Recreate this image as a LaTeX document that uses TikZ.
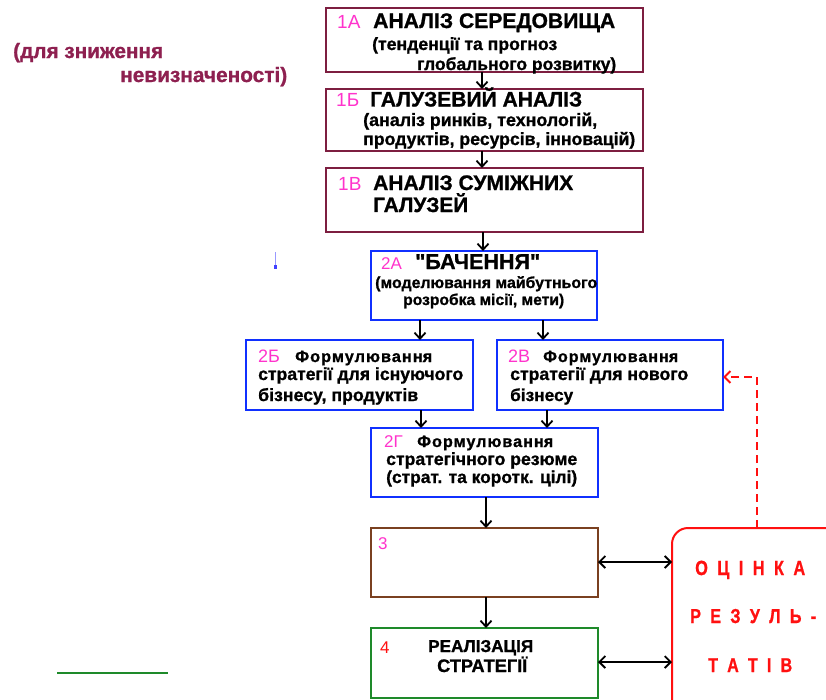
\documentclass[tikz,border=0pt]{standalone}
\usepackage{fontspec}
\setmainfont{Liberation Sans}[Ligatures=TeXOff]
\usepackage{graphicx}
\usetikzlibrary{arrows.meta}
\definecolor{maroonB}{HTML}{7D1E40}
\definecolor{maroonT}{HTML}{8E2050}
\definecolor{blueB}{HTML}{1030FF}
\definecolor{brownB}{HTML}{7A4020}
\definecolor{greenB}{HTML}{1E8A2A}
\definecolor{redB}{HTML}{FF1010}
\definecolor{magL}{HTML}{FF33CC}
\newcommand{\fw}[2]{\resizebox{#1pt}{!}{#2}}
\newcommand{\nl}[1]{\scalebox{0.8}[1]{#1}}
\begin{document}
\begin{tikzpicture}[x=1pt,y=-1pt,
  framebox/.style={rectangle, line width=2.4pt, inner sep=0pt, outer sep=0pt},
  ttl/.style={anchor=base west, inner sep=0pt, font=\bfseries\fontsize{20}{24}\selectfont\addfontfeature{FakeBold=1}},
  sub/.style={anchor=base west, inner sep=0pt, font=\bfseries\fontsize{17}{20}\selectfont\addfontfeature{FakeBold=1}},
  frm/.style={anchor=base west, inner sep=0pt, font=\bfseries\fontsize{15.5}{18}\selectfont\addfontfeature{FakeBold=1,LetterSpace=6}},
  lab/.style={anchor=base west, inner sep=0pt, text=magL, font=\fontsize{19}{23}\selectfont},
  labm/.style={anchor=base west, inner sep=0pt, text=magL, font=\fontsize{18}{22}\selectfont},
  labs/.style={anchor=base west, inner sep=0pt, text=magL, font=\fontsize{17}{20}\selectfont},
  evl/.style={anchor=base west, inner sep=0pt, text=redB, font=\bfseries\fontsize{19.5}{22}\selectfont\addfontfeature{FakeBold=1}},
  arr/.style={line width=1.8pt, -{Straight Barb[length=6pt,width=11pt]}},
  darr/.style={line width=1.8pt, {Straight Barb[length=6pt,width=12pt]}-{Straight Barb[length=6pt,width=12pt]}}]
\clip (0,0) rectangle (826,699);
\fill[white] (0,0) rectangle (826,699);

% boxes
\node[framebox, draw=maroonB, minimum width=317pt, minimum height=64pt] (n1a) at (484.5,40) {};
\node[framebox, draw=maroonB, minimum width=317pt, minimum height=62pt] (n1b) at (484.5,120) {};
\node[framebox, draw=maroonB, minimum width=317pt, minimum height=64pt] (n1v) at (484.5,200) {};
\node[framebox, draw=blueB, minimum width=226pt, minimum height=69pt] (n2a) at (484,285.5) {};
\node[framebox, draw=blueB, minimum width=227pt, minimum height=70pt] (n2b) at (359.5,375) {};
\node[framebox, draw=blueB, minimum width=226pt, minimum height=70pt] (n2v) at (610,375) {};
\node[framebox, draw=blueB, minimum width=227pt, minimum height=69pt] (n2g) at (484.5,462.5) {};
\node[framebox, draw=brownB, minimum width=227pt, minimum height=69pt] (n3) at (484.5,562.5) {};
\node[framebox, draw=greenB, minimum width=227pt, minimum height=70pt] (n4) at (484.5,663) {};
\node[rectangle, draw=redB, line width=2pt, rounded corners=16pt, inner sep=0pt, outer sep=0pt, minimum width=208pt, minimum height=232pt] (nr) at (776,644) {};

% helper coordinates
\coordinate (c420) at (420,0);
\coordinate (c422) at (421,0);
\coordinate (c482) at (482,0);
\coordinate (c483) at (483,0);
\coordinate (c486) at (486,0);
\coordinate (c543) at (543,0);
\coordinate (c547) at (547,0);
\coordinate (c757) at (757,0);
\coordinate (cy377) at (0,377);
\coordinate (cy562) at (0,562);
\coordinate (cy662) at (0,662);

% connectors
\draw[arr] (n1a.south -| c482) -- (n1b.north -| c482);
\draw[arr] (n1b.south -| c482) -- (n1v.north -| c482);
\draw[arr] (n1v.south -| c483) -- (n2a.north -| c483);
\draw[arr] (n2a.south -| c420) -- (n2b.north -| c420);
\draw[arr] (n2a.south -| c543) -- (n2v.north -| c543);
\draw[arr] (n2b.south -| c422) -- (n2g.north -| c422);
\draw[arr] (n2v.south -| c547) -- (n2g.north -| c547);
\draw[arr] (n2g.south -| c486) -- (n3.north -| c486);
\draw[arr] (n3.south -| c486) -- (n4.north -| c486);
\draw[darr] (n3.east |- cy562) -- (nr.west |- cy562);
\draw[darr] (n4.east |- cy662) -- (nr.west |- cy662);
\draw[redB, line width=2pt, dash pattern=on 8pt off 5pt, -{Straight Barb[length=6pt,width=12pt]}]
  (nr.north -| c757) -- (c757 |- cy377) -- (n2v.east |- cy377);

% texts 1A
\node[lab] (l1a) at (337,28) {1А};
\node[ttl] (t1a) at (373,28) {\fw{242}{АНАЛІЗ СЕРЕДОВИЩА}};
\node[sub] (s1a1) at (372,50) {\fw{185}{(тенденції та прогноз}};
\node[sub] (s1a2) at (417,70) {\fw{199}{глобального розвитку)}};
% 1B
\node[lab] (l1b) at (336,106.5) {1Б};
\node[ttl] (t1b) at (370,106.5) {\fw{212}{ГАЛУЗЕВИЙ АНАЛІЗ}};
\node[sub] (s1b1) at (363,126) {\fw{234}{(аналіз ринків, технологій,}};
\node[sub] (s1b2) at (363,145) {\fw{272}{продуктів, ресурсів, інновацій)}};
% 1V
\node[lab] (l1v) at (338,190) {1В};
\node[ttl] (t1v1) at (373,190) {\fw{200}{АНАЛІЗ СУМІЖНИХ}};
\node[ttl] (t1v2) at (373,212) {\fw{95}{ГАЛУЗЕЙ}};
% 2A
\node[labs] (l2a) at (381,269) {2А};
\node[ttl] (t2a) at (415,269) {\fw{125}{"БАЧЕННЯ"}};
\node[sub] (s2a1) at (375,288) {\fw{222}{(моделювання майбутнього}};
\node[sub] (s2a2) at (403,305) {\fw{161}{розробка місії, мети)}};
% 2B
\node[labm] (l2b) at (258,362) {2Б};
\node[frm] (f2b) at (295,362) {\fw{137}{Формулюванн\addfontfeature{LetterSpace=0}я}};
\node[sub] (s2b1) at (258,380) {\fw{205}{стратегії для існуючого}};
\node[sub] (s2b2) at (258,401) {\fw{160}{бізнесу, продуктів}};
% 2V
\node[labm] (l2v) at (508,362) {2В};
\node[frm] (f2v) at (543,362) {\fw{135}{Формулюванн\addfontfeature{LetterSpace=0}я}};
\node[sub] (s2v1) at (510,380) {\fw{178}{стратегії для нового}};
\node[sub] (s2v2) at (510,401) {\fw{63}{бізнесу}};
% 2G
\node[labs] (l2g) at (384,447) {2Г};
\node[frm] (f2g) at (417,447) {\fw{136}{Формулюванн\addfontfeature{LetterSpace=0}я}};
\node[sub] (s2g1) at (386,465) {\fw{191}{стратегічного резюме}};
\node[sub] (s2g2) at (386,483) {\fw{191}{(страт. та коротк. цілі)}};
% 3, 4
\node[labs] (l3) at (378,549) {3};
\node[labs, text=redB] (l4) at (380,653) {4};
\node[sub] (t4a) at (428,652) {\fw{105}{РЕАЛІЗАЦІЯ}};
\node[sub] (t4b) at (437,672) {\fw{90}{СТРАТЕГІЇ}};
% evaluation
\node[evl] (e1) at (695,575) {\fw{110}{\nl{О}\kern9pt\nl{Ц}\kern9pt\nl{І}\kern9pt\nl{Н}\kern9pt\nl{К}\kern9pt\nl{А}}};
\node[evl] (e2) at (690,623) {\fw{126}{\nl{Р}\kern9pt\nl{Е}\kern9pt\nl{З}\kern9pt\nl{У}\kern9pt\nl{Л}\kern9pt\nl{Ь}\kern9pt\nl{-}}};
\node[evl] (e3) at (708,672) {\fw{84}{\nl{Т}\kern9pt\nl{А}\kern9pt\nl{Т}\kern9pt\nl{І}\kern9pt\nl{В}}};
% top-left note
\node[sub, text=maroonT] (n1) at (13,58) {\fw{150}{(для зниження}};
\node[sub, text=maroonT] (n2) at (120,82) {\fw{167}{невизначеності)}};
% stray marks
\draw[blue!40, line width=1pt] (275,252) -- (275,266);
\fill[blue!75] (274,265) rectangle (277,269);
\draw[greenB, line width=1.4pt] (57,673) -- (168,673);
\end{tikzpicture}
\end{document}
